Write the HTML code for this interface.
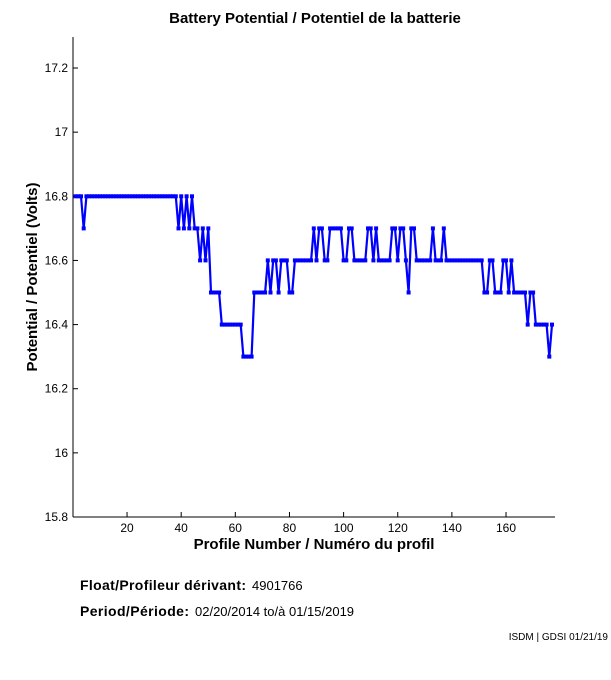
<!DOCTYPE html>
<html><head><style>
body{margin:0;background:#fff;width:611px;height:675px;overflow:hidden;font-family:"Liberation Sans",Arial,sans-serif}
</style></head><body>
<svg id="s" width="611" height="675" xmlns="http://www.w3.org/2000/svg" font-family="Liberation Sans, Arial, sans-serif">
<text x="315" y="23" font-size="15" font-weight="bold" text-anchor="middle">Battery Potential / Potentiel de la batterie</text>
<line x1="73" y1="37" x2="73" y2="517" stroke="#000" stroke-width="1"/>
<line x1="73" y1="517" x2="555" y2="517" stroke="#000" stroke-width="1"/>
<g id="ticks" font-size="12"></g>
<text transform="translate(37,277) rotate(-90)" font-size="15" font-weight="bold" text-anchor="middle">Potential / Potentiel (Volts)</text>
<text x="314" y="549" font-size="15" font-weight="bold" text-anchor="middle">Profile Number / Numéro du profil</text>
<g id="data"></g>
<text x="80" y="590" font-size="14" font-weight="bold" textLength="166">Float/Profileur dérivant:</text>
<text x="252" y="590" font-size="13">4901766</text>
<text x="80" y="616" font-size="14" font-weight="bold" textLength="109">Period/Période:</text>
<text x="195" y="616" font-size="13">02/20/2014  to/à  01/15/2019</text>
<text x="608" y="640" font-size="10" text-anchor="end">ISDM | GDSI 01/21/19</text>
</svg>
<script>
function X(i){return 72.9+i*2.707}
function Y(v){return 517-(v-15.8)*320.7}
var t=document.getElementById("ticks"),h="";
[15.8,16,16.2,16.4,16.6,16.8,17,17.2].forEach(function(v){var y=Y(v);
h+='<line x1="73" y1="'+y+'" x2="78" y2="'+y+'" stroke="#000"/>';
h+='<text x="68" y="'+(y+4)+'" text-anchor="end">'+(v==16||v==17?v.toFixed(0):v.toFixed(1))+'</text>';});
[20,40,60,80,100,120,140,160].forEach(function(v){var x=X(v);
h+='<line x1="'+x+'" y1="517" x2="'+x+'" y2="512" stroke="#000"/>';
h+='<text x="'+x+'" y="532" text-anchor="middle">'+v+'</text>';});
t.innerHTML=h;
var runs=[[16.8,3],[16.7,1],[16.8,34],[16.7,1],[16.8,1],[16.7,1],[16.8,1],[16.7,1],[16.8,1],[16.7,2],[16.6,1],[16.7,1],[16.6,1],[16.7,1],[16.5,4],[16.4,8],[16.3,4],[16.5,5],[16.6,1],[16.5,1],[16.6,2],[16.5,1],[16.6,3],[16.5,2],[16.6,7],[16.7,1],[16.6,1],[16.7,2],[16.6,2],[16.7,5],[16.6,2],[16.7,2],[16.6,5],[16.7,2],[16.6,1],[16.7,1],[16.6,5],[16.7,2],[16.6,1],[16.7,2],[16.6,1],[16.5,1],[16.7,2],[16.6,6],[16.7,1],[16.6,3],[16.7,1],[16.6,14],[16.5,2],[16.6,2],[16.5,3],[16.6,2],[16.5,1],[16.6,1],[16.5,5],[16.4,1],[16.5,2],[16.4,5],[16.3,1],[16.4,1]];
var vals=[];runs.forEach(function(r){for(var k=0;k<r[1];k++)vals.push(r[0]);});
var pts=[],d="";
vals.forEach(function(v,k){var x=X(k+1),y=Y(v);pts.push(x.toFixed(1)+","+y.toFixed(1));
d+='<rect x="'+(x-2).toFixed(1)+'" y="'+(y-2).toFixed(1)+'" width="4" height="4" fill="#00f"/>';});
document.getElementById("data").innerHTML='<polyline points="'+pts.join(" ")+'" fill="none" stroke="#00f" stroke-width="2.2"/>'+d;
</script>
</body></html>
